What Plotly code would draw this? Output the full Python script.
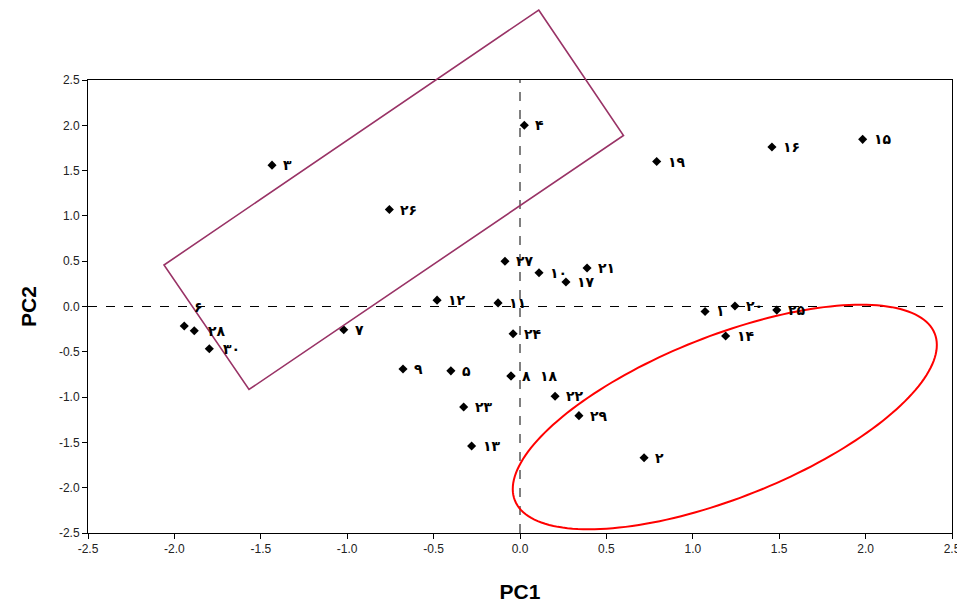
import numpy as np
import plotly.graph_objects as go

# ---- data ----
sample_ids = list(range(1, 31))
pc1 = [1.071, 0.718, -1.435, 0.025, -0.40, -1.943, -1.02, -0.052, -0.677, 0.11,
       -0.127, -0.48, -0.28, 1.19, 1.983, 1.458, 0.266, -0.052, 0.791, 1.244,
       0.388, 0.203, -0.326, -0.04, 1.486, -0.756, -0.087, -1.885, 0.341, -1.798]
pc2 = [-0.055, -1.67, 1.56, 2.0, -0.71, -0.215, -0.256, -0.767, -0.69, 0.373,
       0.04, 0.07, -1.54, -0.326, 1.845, 1.76, 0.27, -0.767, 1.60, 0.005,
       0.425, -0.99, -1.11, -0.30, -0.04, 1.07, 0.50, -0.267, -1.205, -0.466]
x_ticks = [-2.5, -2.0, -1.5, -1.0, -0.5, 0.0, 0.5, 1.0, 1.5, 2.0, 2.5]
y_ticks = [-2.5, -2.0, -1.5, -1.0, -0.5, 0.0, 0.5, 1.0, 1.5, 2.0, 2.5]

PERSIAN = "۰۱۲۳۴۵۶۷۸۹"
def fa(n):
    return "".join(PERSIAN[int(c)] for c in str(n))
labels = [fa(n) for n in sample_ids]

# ---- layout geometry (page has an 8px body margin) ----
OFF = 8
WIN_W, WIN_H = 965, 604
W, H = WIN_W - OFF, WIN_H - OFF
PLOT_L, PLOT_R, PLOT_T, PLOT_B = 88, 952, 80, 533   # window pixels
L, T = PLOT_L - OFF, PLOT_T - OFF
R, B = W - (PLOT_R - OFF), H - (PLOT_B - OFF)
PW, PH = PLOT_R - PLOT_L, PLOT_B - PLOT_T

def px2paper(px, py):
    return (px - PLOT_L) / PW, (PLOT_B - py) / PH

fig = go.Figure()
fig.add_trace(go.Scatter(
    x=pc1, y=pc2, mode="markers",
    marker=dict(symbol="diamond", size=7, color="black"),
    hoverinfo="skip", showlegend=False, cliponaxis=False))

# label offsets (style)
xshift = [9] * 30
yshift = [0] * 30
xanchor = ["left"] * 30
xshift[17] = 27          # label 18 shares point with 8
xshift[5], yshift[5], xanchor[5] = 14, 19, "center"   # label 6 above
xshift[27] = 12
xshift[29] = 12
for i in range(30):
    fig.add_annotation(x=pc1[i], y=pc2[i], text=labels[i], showarrow=False,
                       xanchor=xanchor[i], yanchor="middle",
                       xshift=xshift[i], yshift=yshift[i],
                       font=dict(family="DejaVu Sans", size=14, color="black", weight="bold"))

# dashed zero lines
fig.add_shape(type="line", xref="x", yref="paper", x0=0, x1=0, y0=0, y1=1,
              line=dict(color="black", width=1, dash="dash"), layer="below")
fig.add_shape(type="line", xref="paper", yref="y", x0=0, x1=1, y0=0, y1=0,
              line=dict(color="black", width=1, dash="dash"), layer="below")

# purple rotated rectangle (window-pixel corners -> paper)
rect_px = [(538.7, 10), (623.5, 135.5), (249, 389.5), (164, 265)]
pts = [px2paper(*p) for p in rect_px]
path = "M " + " L ".join(f"{a:.5f},{b:.5f}" for a, b in pts) + " Z"
fig.add_shape(type="path", xref="paper", yref="paper", path=path,
              line=dict(color="#993366", width=1.6))

# red ellipse
cx, cy, a, b, th = 724.8, 417.0, 225.9, 80.9, np.deg2rad(-21.68)
t = np.linspace(0, 2 * np.pi, 181)
ex = cx + a * np.cos(th) * np.cos(t) - b * np.sin(th) * np.sin(t)
ey = cy + a * np.sin(th) * np.cos(t) + b * np.cos(th) * np.sin(t)
ep = [px2paper(u, v) for u, v in zip(ex, ey)]
epath = "M " + " L ".join(f"{u:.5f},{v:.5f}" for u, v in ep) + " Z"
fig.add_shape(type="path", xref="paper", yref="paper", path=epath,
              line=dict(color="#ff0000", width=2))

tickfont = dict(family="Liberation Sans", size=12, color="#222222")
fig.update_xaxes(range=[-2.5, 2.5], tickvals=x_ticks,
                 ticktext=[f"{v:.1f}" for v in x_ticks],
                 showgrid=False, zeroline=False, showline=True, linecolor="black",
                 linewidth=1, mirror=True, ticks="outside", ticklen=5, tickcolor="black",
                 tickfont=tickfont,
                 title=dict(text="PC1", font=dict(family="Liberation Sans", size=21,
                                                  color="black", weight="bold"), standoff=28))
fig.update_yaxes(range=[-2.5, 2.5], tickvals=y_ticks,
                 ticktext=[f"{v:.1f}" for v in y_ticks],
                 showgrid=False, zeroline=False, showline=True, linecolor="black",
                 linewidth=1, mirror=True, ticks="outside", ticklen=5, tickcolor="black",
                 tickfont=tickfont,
                 title=dict(text="PC2", font=dict(family="Liberation Sans", size=21,
                                                  color="black", weight="bold"), standoff=16))
fig.update_layout(width=W, height=H, margin=dict(l=L, r=R, t=T, b=B, autoexpand=False),
                  plot_bgcolor="white", paper_bgcolor="white", showlegend=False)
fig.write_html("out.html")
